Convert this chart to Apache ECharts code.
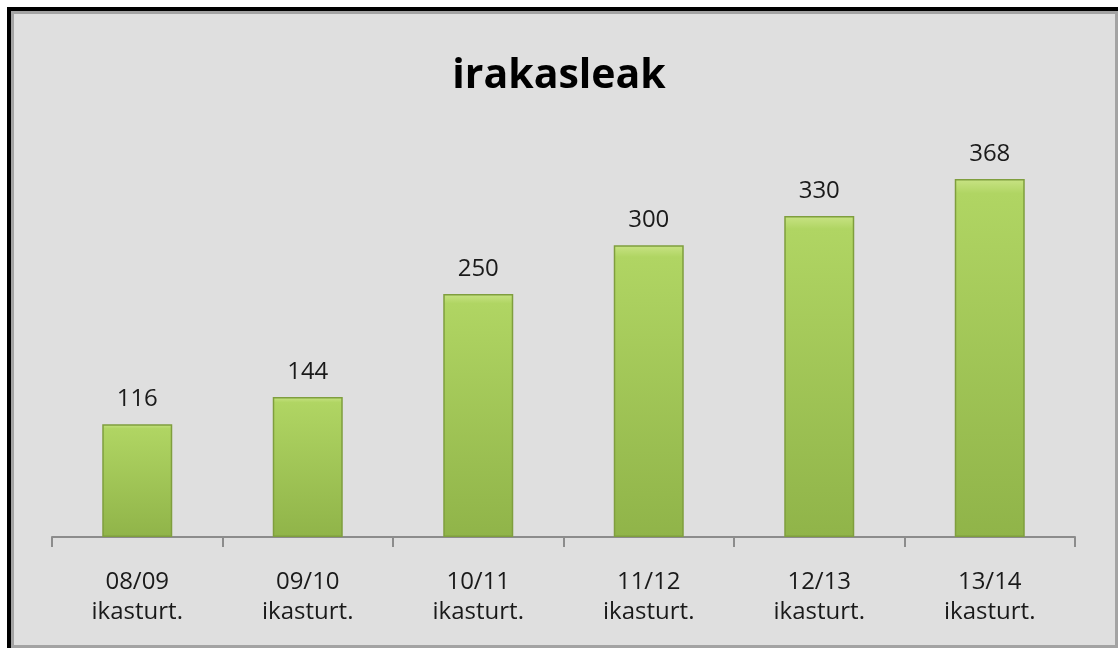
<!DOCTYPE html>
<html>
<head>
<meta charset="utf-8">
<script src="https://cdn.jsdelivr.net/npm/echarts@6/dist/echarts.min.js"></script>
<style>
    body { margin: 0; background: #fff; }
    .frame {
        position: absolute; left: 7px; top: 7px; right: 0; bottom: 0;
        box-sizing: border-box;
        border-top: 4px solid #000; border-left: 4px solid #000;
    }
    .frame .inner {
        width: 100%; height: 100%; box-sizing: border-box;
        border: 3px solid #a3a3a3; background: #dfdfdf;
    }
    #chart { position: absolute; left: 0; top: 0; width: 1118px; height: 648px; }
</style>
</head>
<body>
<div class="frame"><div class="inner"></div></div>
<div id="chart"></div>
<script>
// ikasturteak
let categories = ['08/09\nikasturt.', '09/10\nikasturt.', '10/11\nikasturt.', '11/12\nikasturt.', '12/13\nikasturt.', '13/14\nikasturt.'];
// irakasle kopurua
let teachers = [116, 144, 250, 300, 330, 368];

let fontFamily = '"Open Sans", "DejaVu Sans", sans-serif';

let option = {
    animation: false,
    title: {
        text: 'irakasleak',
        left: 'center',
        top: 51,
        textStyle: { fontFamily: fontFamily, fontSize: 41, fontWeight: 'bold', color: '#000' }
    },
    grid: { left: 52, right: 43, top: 148, bottom: 111 },
    xAxis: {
        type: 'category',
        data: categories,
        axisLine: { lineStyle: { color: '#8c8c8c', width: 2 } },
        axisTick: { show: true, interval: 0, length: 10, lineStyle: { color: '#8c8c8c', width: 2 } },
        axisLabel: {
            margin: 30,
            fontFamily: fontFamily,
            fontSize: 24,
            lineHeight: 30,
            color: '#1a1a1a'
        }
    },
    yAxis: {
        type: 'value',
        min: 0,
        max: 400,
        show: false
    },
    series: [
        {
            type: 'bar',
            data: teachers,
            barWidth: 70,
            itemStyle: {
                color: new echarts.graphic.LinearGradient(0, 0, 0, 1, [
                    { offset: 0, color: '#c8e384' },
                    { offset: 0.04, color: '#b0d563' },
                    { offset: 1, color: '#90b449' }
                ]),
                borderColor: '#7f9e3e',
                borderWidth: 1.5
            },
            label: {
                show: true,
                position: 'top',
                distance: 13,
                fontFamily: fontFamily,
                fontSize: 24,
                color: '#1a1a1a'
            }
        }
    ]
};

let mainChart = echarts.init(document.getElementById('chart'));
mainChart.setOption(option);
</script>
</body>
</html>
